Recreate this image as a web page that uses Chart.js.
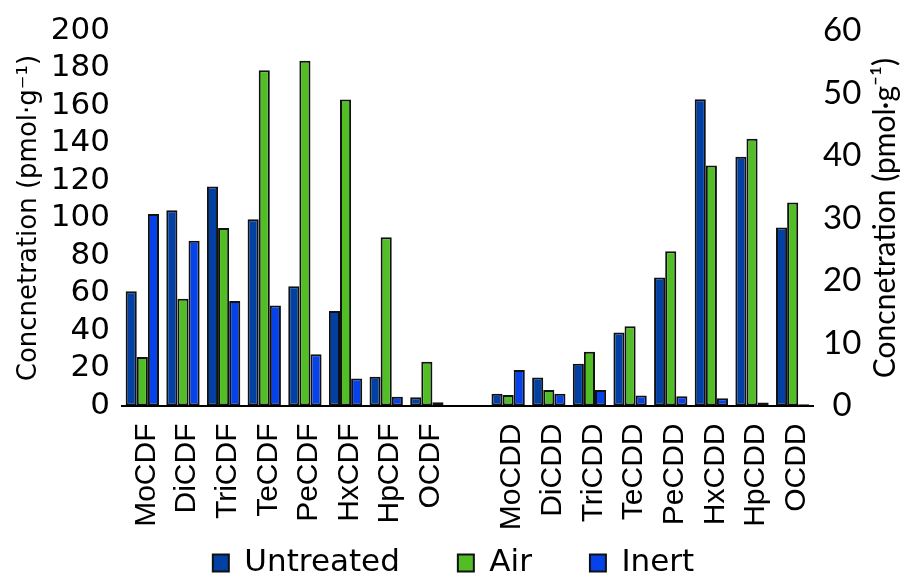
<!DOCTYPE html>
<html>
<head>
<meta charset="utf-8">
<script src="https://cdn.jsdelivr.net/npm/chart.js"></script>
<style>
  html, body { margin: 0; padding: 0; background: #fff; }
  #wrap { width: 907px; height: 576px; }
</style>
</head>
<body>
<div id="wrap"><canvas id="c" width="907" height="576"></canvas></div>
<script>
// ---- data ----
const cdfCategories = ['MoCDF', 'DiCDF', 'TriCDF', 'TeCDF', 'PeCDF', 'HxCDF', 'HpCDF', 'OCDF'];
const cddCategories = ['MoCDD', 'DiCDD', 'TriCDD', 'TeCDD', 'PeCDD', 'HxCDD', 'HpCDD', 'OCDD'];
const seriesNames = ['Untreated', 'Air', 'Inert'];

// left axis (pmol/g), furans
const cdfUntreated = [61, 104.2, 116.8, 99.4, 63.6, 50.4, 15.3, 4.4];
const cdfAir       = [25.9, 56.9, 94.7, 178.8, 183.9, 163.2, 89.7, 23.3];
const cdfInert     = [102.1, 87.9, 55.7, 53.4, 27.4, 14.4, 4.7, 1.7];

// right axis (pmol/g), dioxins
const cddUntreated = [1.9, 4.5, 6.7, 11.7, 20.5, 49, 39.8, 28.5];
const cddAir       = [1.7, 2.5, 8.6, 12.7, 24.7, 38.4, 42.7, 32.5];
const cddInert     = [5.7, 1.9, 2.5, 1.6, 1.5, 1.15, 0.5, 0.2];

const leftTicksMax = 200, leftStep = 20;
const rightTicksMax = 60, rightStep = 10;
const axisTitle = 'Concnetration (pmol\u00b7g\u207b\u00b9)';

// ---- styles ----
const colors = ['#0340A3', '#52BE25', '#0642EA'];

const labels = [...cdfCategories, '', ...cddCategories];
const gap = labels.length - cdfCategories.length;      // slots after CDF block
const lead = labels.length - cddCategories.length;     // slots before CDD block
const padRight = (arr) => [...arr, ...Array(gap).fill(null)];
const padLeft = (arr) => [...Array(lead).fill(null), ...arr];

const cdfSeries = [cdfUntreated, cdfAir, cdfInert];
const cddSeries = [cddUntreated, cddAir, cddInert];

const common = (i) => ({
  backgroundColor: colors[i],
  borderColor: '#111111',
  borderWidth: 2,
  borderSkipped: false,
  barPercentage: 1.0,
  categoryPercentage: 0.82,
  skipNull: true
});

const datasets = [];
cdfSeries.forEach((s, i) => datasets.push({ label: seriesNames[i], data: padRight(s), yAxisID: 'y', ...common(i) }));
cddSeries.forEach((s, i) => datasets.push({ label: seriesNames[i] + ' (CDD)', data: padLeft(s), yAxisID: 'y1', ...common(i) }));

// layout constants
const areaTop = 29, areaBottom = 405.5, areaLeft = 122, areaRight = 813;
const legendPad = 58, legendFont = 31, legendRowCenter = 563;
const legendH = 30.5;
const xAxisH = 576 - legendH - areaBottom;

// legend row: move so that the row sits at legendRowCenter (its vertical padding equals the wide horizontal one)
const legendPlace = {
  id: 'legendPlace',
  afterLayout(chart) {
    const lg = chart.legend;
    if (!lg) return;
    lg.top = legendRowCenter - legendFont / 2 - legendPad;
    lg.bottom = 576;
    lg.height = lg.bottom - lg.top;
  }
};

const rightTitlePlugin = {
  id: 'rightTitle',
  afterDraw(chart) {
    const { ctx, chartArea } = chart;
    ctx.save();
    ctx.translate(chart.width - 22, (chartArea.top + chartArea.bottom) / 2);
    ctx.rotate(-Math.PI / 2);
    ctx.font = '30px Lato';
    ctx.fillStyle = '#000';
    ctx.textAlign = 'center';
    ctx.textBaseline = 'middle';
    ctx.fillText(axisTitle, 0, 0);
    ctx.restore();
  }
};

Chart.defaults.color = '#000';
Chart.defaults.font.family = "'DejaVu Sans', sans-serif";

new Chart(document.getElementById('c'), {
  type: 'bar',
  data: { labels, datasets },
  plugins: [legendPlace, rightTitlePlugin],
  options: {
    responsive: false,
    animation: false,
    layout: { padding: { top: areaTop, left: 0, right: 0, bottom: 0 } },
    plugins: {
      tooltip: { enabled: false },
      legend: {
        position: 'bottom',
        maxHeight: legendH,
        labels: {
          filter: (item) => item.datasetIndex < 3,
          boxWidth: 16,
          boxHeight: 17,
          padding: legendPad,
          color: '#000',
          font: { family: "'DejaVu Sans'", size: legendFont }
        }
      }
    },
    scales: {
      x: {
        grid: { display: false, drawTicks: false },
        border: { display: true, color: '#000', width: 2 },
        ticks: {
          autoSkip: false,
          maxRotation: 90,
          minRotation: 90,
          padding: 18,
          labelOffset: 4,
          color: '#000',
          font: { family: "'Liberation Sans'", size: 30 }
        },
        afterFit(s) { s.height = xAxisH; }
      },
      y: {
        position: 'left',
        min: 0, max: leftTicksMax,
        grid: { display: false, drawTicks: false },
        border: { display: false },
        ticks: { autoSkip: false, stepSize: leftStep, padding: 12, color: '#000', font: { family: "'DejaVu Sans'", size: 31 } },
        title: { display: true, text: axisTitle, color: '#000', padding: { top: 14, bottom: 0 }, font: { family: "'DejaVu Sans'", size: 26 } },
        afterFit(s) { s.width = areaLeft; }
      },
      y1: {
        position: 'right',
        min: 0, max: rightTicksMax,
        grid: { display: false, drawTicks: false },
        border: { display: false },
        ticks: { autoSkip: false, stepSize: rightStep, padding: 10, crossAlign: 'center', color: '#000', font: { family: 'Lato', size: 33 } },
        afterFit(s) { s.width = 907 - areaRight; }
      }
    }
  }
});
</script>
</body>
</html>
